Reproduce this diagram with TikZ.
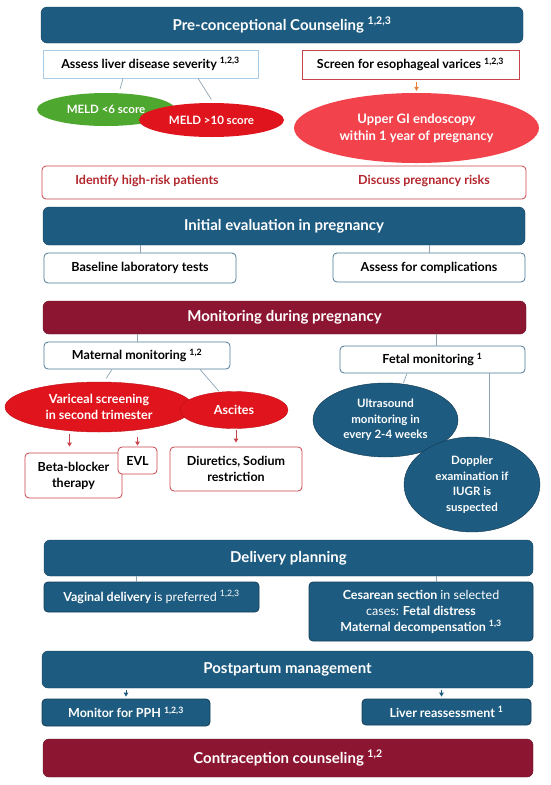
\documentclass[tikz,border=0pt]{standalone}
\usepackage{fontspec}
\setmainfont{Lato}
\usetikzlibrary{arrows.meta, shapes.geometric}
\definecolor{PlanBlue}{HTML}{1D5B80}
\definecolor{PlanRed}{HTML}{8C1631}
\definecolor{MeldGreen}{HTML}{4EA72E}
\definecolor{AlertRed}{HTML}{E0141C}
\definecolor{ScopeRed}{HTML}{F2434C}
\definecolor{RedLine}{HTML}{C8444A}
\definecolor{RiskText}{HTML}{B3262D}
\definecolor{SkyLine}{HTML}{A9CBE6}
\definecolor{SlateLine}{HTML}{4C7A99}
\definecolor{LinkGray}{HTML}{8EA4B2}
\definecolor{ScopeOrange}{HTML}{E8803A}

\begin{document}
\begin{tikzpicture}[x=1pt, y=-1pt,
    head/.style={draw=PlanBlue!70!black, fill=PlanBlue, rounded corners=6pt, text=white, font=\fontsize{15}{17}\selectfont\bfseries},
    headred/.style={head, draw=PlanRed!70!black, fill=PlanRed},
    box/.style={draw=SlateLine, line width=0.8pt, fill=white, rounded corners=4pt, align=center, inner sep=1pt, font=\fontsize{12.5}{16}\selectfont\bfseries},
    redbox/.style={box, draw=RedLine},
    bluebox/.style={box, draw=PlanBlue!70!black, fill=PlanBlue, text=white},
    blob/.style={ellipse, inner sep=0pt, align=center, text=white, font=\fontsize{11.5}{15.5}\selectfont\bfseries},
    link/.style={LinkGray, line width=0.7pt},
    redarrow/.style={-{Triangle[length=4pt,width=4.5pt]}, RedLine, line width=0.8pt},
    bluearrow/.style={-{Triangle[length=4pt,width=4.5pt]}, PlanBlue, line width=0.8pt}
  ]
  \useasboundingbox (0,0) rectangle (550,785);

  % pre-conceptional stage
  \node[head, minimum width=482pt, minimum height=36pt] (pre) at (282,25) {Pre-conceptional Counseling \textsuperscript{1,2,3}};
  \node[box, draw=SkyLine, rounded corners=0pt, minimum width=215pt, minimum height=28pt] (liver) at (150.5,64) {Assess liver disease severity \textsuperscript{1,2,3}};
  \node[redbox, rounded corners=0pt, minimum width=217pt, minimum height=29pt] (screen) at (410.5,64.5) {Screen for esophageal varices \textsuperscript{1,2,3}};
  \node[blob, fill=MeldGreen, minimum width=138pt, minimum height=33pt] (meldlow) at (106,109.5) {MELD <6 score};
  \node[blob, fill=AlertRed, minimum width=145pt, minimum height=34pt] (meldhigh) at (211.5,120) {MELD >10 score};
  \node[blob, fill=ScopeRed, minimum width=245pt, minimum height=70pt, font=\fontsize{13}{17}\selectfont\bfseries] (ugi) at (416.5,128) {Upper GI endoscopy\\within 1 year of pregnancy};
  \node[redbox, minimum width=484pt, minimum height=33pt] (risks) at (284,182.5) {};
  \node[text=RiskText, font=\fontsize{12.5}{15}\selectfont\bfseries] (identify) at (147,181) {Identify high-risk patients};
  \node[text=RiskText, font=\fontsize{12.5}{15}\selectfont\bfseries] (discuss) at (424,181) {Discuss pregnancy risks};
  \draw[link, shorten >=4pt] ([xshift=-27.5pt]liver.south) -- ([xshift=13pt]meldlow.north);
  \draw[link, shorten >=4pt] ([xshift=47.5pt]liver.south) -- ([xshift=2pt]meldhigh.north);
  \draw[-{Triangle[length=4pt,width=4.5pt]}, ScopeOrange, line width=0.8pt, shorten <=3pt, shorten >=2pt] (ugi.north |- screen.south) -- (ugi.north);

  % initial evaluation
  \node[head, minimum width=482pt, minimum height=38pt] (init) at (284,226) {Initial evaluation in pregnancy};
  \node[box, minimum width=192pt, minimum height=30pt] (baseline) at (140,268) {Baseline laboratory tests};
  \node[box, minimum width=192pt, minimum height=29pt] (compl) at (429,267.5) {Assess for complications};
  \draw[link] (baseline.north |- init.south) -- (baseline.north);
  \draw[link] (compl.north |- init.south) -- (compl.north);

  % monitoring
  \node[headred, minimum width=483pt, minimum height=33pt] (monitor) at (284.5,317.5) {Monitoring during pregnancy};
  \node[box, minimum width=186pt, minimum height=27pt] (maternal) at (137,355.5) {Maternal monitoring \textsuperscript{1,2}};
  \node[box, minimum width=185pt, minimum height=27pt] (fetal) at (432.5,359.5) {Fetal monitoring \textsuperscript{1}};
  \draw[link] (maternal.north |- monitor.south) -- (maternal.north);
  \draw[link] ([xshift=3.5pt]fetal.north |- monitor.south) -- ([xshift=3.5pt]fetal.north);

  \node[blob, draw=AlertRed!85!black, fill=AlertRed, minimum width=188pt, minimum height=50pt, font=\fontsize{12.5}{16.5}\selectfont\bfseries] (varic) at (99,407) {Variceal screening\\in second trimester};
  \node[blob, draw=AlertRed!85!black, fill=AlertRed, minimum width=108pt, minimum height=37pt, font=\fontsize{12.5}{16.5}\selectfont\bfseries] (ascites) at (234,410) {Ascites};
  \node[redbox, minimum width=97pt, minimum height=45pt] (beta) at (73.5,475.5) {Beta-blocker\\therapy};
  \node[redbox, minimum width=39pt, minimum height=27pt] (evl) at (137.5,460.5) {EVL};
  \node[redbox, minimum width=132pt, minimum height=44pt] (diur) at (236,469) {Diuretics, Sodium\\restriction};
  \draw[link, shorten >=4pt] ([xshift=-25pt]maternal.south) -- ([xshift=5pt]varic.north);
  \draw[link] ([xshift=63pt]maternal.south) -- ([xshift=-15pt]ascites.north);
  \draw[redarrow, shorten <=2pt, shorten >=6pt] ([xshift=-4pt]beta.north |- varic.south) -- ([xshift=-4pt]beta.north);
  \draw[redarrow, shorten <=5pt, shorten >=1pt] (evl.north |- varic.south) -- (evl.north);
  \draw[redarrow, shorten <=1pt, shorten >=4pt] (diur.north |- ascites.south) -- (diur.north);

  \node[blob, draw=PlanBlue!60!black, fill=PlanBlue, minimum width=145pt, minimum height=74pt] (ultra) at (385.5,420) {Ultrasound\\monitoring in\\every 2-4 weeks};
  \node[blob, draw=PlanBlue!60!black, fill=PlanBlue, minimum width=136pt, minimum height=95pt] (doppler) at (472,484.5) {Doppler\\examination if\\IUGR is\\suspected};
  \draw[link] ([xshift=-25.5pt]fetal.south) -- ([xshift=18pt]ultra.north);
  \draw[link] ([xshift=56.5pt]fetal.south) -- ([xshift=56.5pt]fetal.south |- doppler.north);

  % delivery
  \node[head, minimum width=489pt, minimum height=36pt] (delivery) at (288.5,558) {Delivery planning};
  \node[bluebox, minimum width=215pt, minimum height=30pt] (vaginal) at (151.5,597) {Vaginal delivery \mdseries is preferred \textsuperscript{1,2,3}};
  \node[bluebox, minimum width=224pt, minimum height=59pt] (cesarean) at (421,611.5) {Cesarean section \mdseries in selected\\{\mdseries cases:} Fetal distress\\Maternal decompensation \textsuperscript{1,3}};
  \draw[link] ([xshift=-15pt]vaginal.north |- delivery.south) -- ([xshift=-15pt]vaginal.north);
  \draw[link] ([xshift=15pt]cesarean.north |- delivery.south) -- ([xshift=15pt]cesarean.north);

  % postpartum
  \node[head, minimum width=491pt, minimum height=37pt] (postpartum) at (287.5,669.5) {Postpartum management};
  \node[bluebox, minimum width=168pt, minimum height=27pt] (pph) at (126,712.5) {Monitor for PPH \textsuperscript{1,2,3}};
  \node[bluebox, minimum width=169pt, minimum height=26pt] (liverre) at (446.5,712) {Liver reassessment \textsuperscript{1}};
  \draw[bluearrow, shorten <=2pt, shorten >=2pt] (pph.north |- postpartum.south) -- (pph.north);
  \draw[bluearrow, shorten <=2pt, shorten >=2pt] ([xshift=-5pt]liverre.north |- postpartum.south) -- ([xshift=-5pt]liverre.north);

  \node[headred, minimum width=490pt, minimum height=38pt] (contra) at (288,758) {Contraception counseling \textsuperscript{1,2}};
\end{tikzpicture}
\end{document}
